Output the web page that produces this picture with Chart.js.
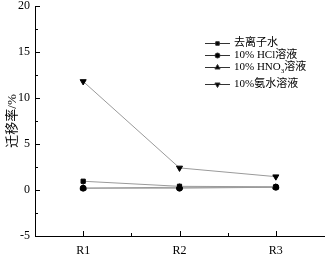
<!DOCTYPE html>
<html><head><meta charset="utf-8">
<script src="https://cdn.jsdelivr.net/npm/chart.js@4/dist/chart.umd.min.js"></script>
<style>html,body{margin:0;padding:0;background:#fff}#w{width:329px;height:259px}</style>
</head><body><div id="w"><canvas id="c" width="329" height="259"></canvas></div>
<script>
const categories = ["R1", "R2", "R3"];
const seriesNames = ["去离子水", "10% HCl溶液", "10% HNO3溶液", "10%氨水溶液"];
const water = [0.95, 0.4, 0.35];
const hcl = [0.2, 0.2, 0.3];
const hno3 = [0.2, 0.3, 0.3];
const ammonia = [11.8, 2.4, 1.45];
const yTicks = [-5, 0, 5, 10, 15, 20];

const FONT = '"Liberation Serif", "Noto Sans CJK SC", serif';
const styles = [
  {pointStyle: 'rect', rotation: 0, r: 3},
  {pointStyle: 'circle', rotation: 0, r: 3},
  {pointStyle: 'triangle', rotation: 0, r: 3.5},
  {pointStyle: 'triangle', rotation: 180, r: 3.5}
];
const allData = [water, hcl, hno3, ammonia];
const datasets = allData.map((d, i) => ({
  label: seriesNames[i], data: d,
  borderColor: '#9a9a9a', borderWidth: 1,
  pointStyle: styles[i].pointStyle, rotation: styles[i].rotation,
  pointRadius: styles[i].r, pointBackgroundColor: '#000', pointBorderColor: '#000', pointBorderWidth: 1,
  tension: 0
}));

const tickPlugin = {
  id: 'ticks',
  afterDraw(chart) {
    const ctx = chart.ctx, x = chart.scales.x, y = chart.scales.y;
    ctx.save(); ctx.strokeStyle = '#000'; ctx.lineWidth = 1;
    const L = x.left, B = y.bottom;
    ctx.beginPath();
    for (let v = yTicks[0]; v <= yTicks[yTicks.length-1] + 1e-9; v += 2.5) {
      const py = Math.round(y.getPixelForValue(v)) + 0.5;
      const major = Math.abs(v / 5 - Math.round(v / 5)) < 1e-9;
      ctx.moveTo(L, py); ctx.lineTo(L + (major ? 5 : 3), py);
    }
    for (let i = 0; i < categories.length; i++) {
      const px = Math.round(x.getPixelForValue(i)) + 0.5;
      ctx.moveTo(px, B); ctx.lineTo(px, B - 5);
      const mx = Math.round(x.getPixelForValue(i + 0.5)) + 0.5;
      if (i < categories.length - 1) { ctx.moveTo(mx, B); ctx.lineTo(mx, B - 3); }
    }
    ctx.stroke();
    // legend
    const lx0 = 205, lx1 = 230, tx = 234;
    const rows = [43, 55, 67, 84];
    ctx.font = '11px ' + FONT; ctx.textBaseline = 'middle'; ctx.fillStyle = '#000';
    for (let i = 0; i < seriesNames.length; i++) {
      const ry = rows[i];
      ctx.strokeStyle = '#333'; ctx.beginPath(); ctx.moveTo(lx0, ry + 0.5); ctx.lineTo(lx1, ry + 0.5); ctx.stroke();
      Chart.helpers.drawPoint(ctx, {pointStyle: styles[i].pointStyle, rotation: styles[i].rotation, radius: styles[i].r - 0.5, borderWidth: 1}, (lx0 + lx1) / 2, ry + 0.5);
      ctx.fillStyle = '#000';
      if (i === 2) {
        const a = '10% HNO';
        ctx.fillText(a, tx, ry);
        let w = ctx.measureText(a).width;
        ctx.font = '7px ' + FONT; ctx.fillText('3', tx + w, ry + 4);
        w += ctx.measureText('3').width;
        ctx.font = '11px ' + FONT; ctx.fillText('溶液', tx + w, ry);
      } else {
        ctx.fillText(seriesNames[i], tx, ry);
      }
    }
    ctx.restore();
  }
};

new Chart(document.getElementById('c'), {
  type: 'line',
  data: {labels: categories, datasets},
  options: {
    responsive: false, animation: false, devicePixelRatio: 1,
    layout: {padding: {top: 6, right: 3, left: 0, bottom: 0}},
    plugins: {legend: {display: false}, tooltip: {enabled: false}},
    scales: {
      x: {
        offset: true,
        grid: {display: false, offset: true, drawTicks: false},
        border: {display: true, color: '#000', width: 1},
        ticks: {color: '#000', font: {family: FONT, size: 12}, padding: 8},
        afterFit(s) { s.height = 23; s.paddingLeft = 0; s.paddingRight = 0; }
      },
      y: {
        min: -5, max: 20,
        grid: {display: false, drawTicks: false},
        border: {display: true, color: '#000', width: 1},
        ticks: {stepSize: 5, color: '#000', font: {family: FONT, size: 12}, padding: 5},
        title: {display: true, text: '迁移率/%', color: '#000', font: {family: FONT, size: 13}, padding: {top: 5, bottom: 0}},
        afterFit(s) { s.width = 35; s.paddingTop = 0; s.paddingBottom = 0; }
      }
    }
  },
  plugins: [tickPlugin]
});
</script></body></html>
